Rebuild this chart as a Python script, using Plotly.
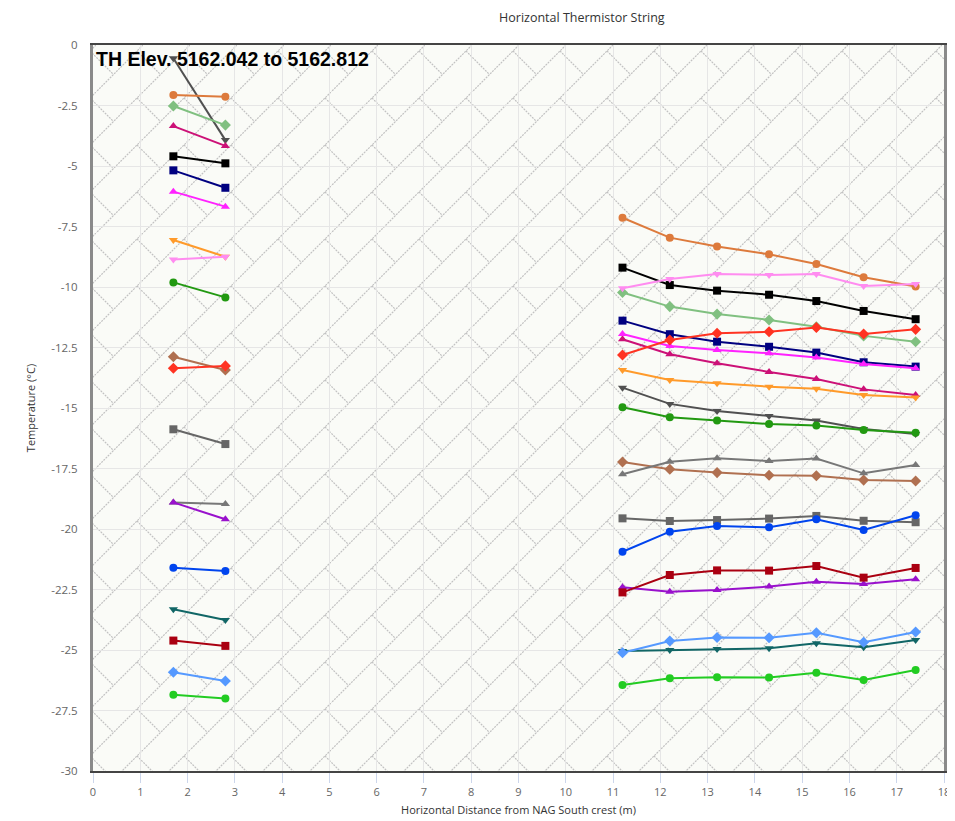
import base64
import plotly.graph_objects as go

# ---------------- data ----------------
x_left = [1.7, 2.8]
x_right = [11.2, 12.2, 13.2, 14.3, 15.3, 16.3, 17.4]

th01_left = [-0.55, -3.93]
th01_right = [-14.16, -14.83, -15.12, -15.33, -15.52, -15.87, -16.07]
th02_left = [-2.07, -2.14]
th02_right = [-7.14, -7.96, -8.33, -8.65, -9.05, -9.60, -9.98]
th03_left = [-2.52, -3.31]
th03_right = [-10.23, -10.81, -11.12, -11.36, -11.64, -12.02, -12.26]
th04_left = [-3.35, -4.17]
th04_right = [-12.16, -12.78, -13.15, -13.51, -13.80, -14.23, -14.46]
th05_left = [-4.60, -4.89]
th05_right = [-9.20, -9.92, -10.15, -10.32, -10.58, -10.99, -11.33]
th06_left = [-5.18, -5.90]
th06_right = [-11.39, -11.95, -12.26, -12.47, -12.71, -13.11, -13.29]
th07_left = [-6.06, -6.68]
th07_right = [-11.94, -12.44, -12.60, -12.74, -12.91, -13.18, -13.36]
th08_left = [-8.06, -8.75]
th08_right = [-13.43, -13.84, -13.98, -14.12, -14.20, -14.46, -14.57]
th09_left = [-8.86, -8.75]
th09_right = [-10.05, -9.67, -9.46, -9.50, -9.46, -9.96, -9.88]
th10_left = [-9.81, -10.43]
th10_right = [-14.97, -15.38, -15.52, -15.66, -15.72, -15.91, -16.02]
th11_left = [-12.88, -13.43]
th11_right = [-17.23, -17.53, -17.67, -17.78, -17.80, -17.98, -18.02]
th12_left = [-13.36, -13.26]
th12_right = [-12.81, -12.19, -11.91, -11.85, -11.67, -11.94, -11.75]
th13_left = [-15.88, -16.49]
th13_right = [-19.56, -19.67, -19.63, -19.57, -19.46, -19.66, -19.72]
th14_left = [-18.90, -18.97]
th14_right = [-17.74, -17.22, -17.08, -17.19, -17.09, -17.70, -17.36]
th15_left = [-18.90, -19.60]
th15_right = [-22.41, -22.59, -22.52, -22.38, -22.18, -22.27, -22.08]
th16_left = [-21.60, -21.74]
th16_right = [-20.94, -20.11, -19.88, -19.93, -19.60, -20.04, -19.43]
th17_left = [-23.32, -23.76]
th17_right = [-25.04, -25.00, -24.96, -24.93, -24.72, -24.89, -24.59]
th18_left = [-24.61, -24.83]
th18_right = [-22.62, -21.90, -21.71, -21.72, -21.53, -22.01, -21.61]
th19_left = [-25.92, -26.28]
th19_right = [-25.11, -24.63, -24.48, -24.49, -24.29, -24.68, -24.26]
th20_left = [-26.85, -27.00]
th20_right = [-26.45, -26.17, -26.13, -26.14, -25.94, -26.24, -25.83]

x_ticks = list(range(0, 19))
y_tick_vals = [0, -2.5, -5, -7.5, -10, -12.5, -15, -17.5, -20, -22.5, -25, -27.5, -30]
y_tick_text = ["0", "-2.5", "-5", "-7.5", "-10", "-12.5", "-15", "-17.5", "-20",
               "-22.5", "-25", "-27.5", "-30"]

# ---------------- styles ----------------
left_series = [th01_left, th02_left, th03_left, th04_left, th05_left, th06_left, th07_left,
               th08_left, th09_left, th10_left, th11_left, th12_left, th13_left, th14_left,
               th15_left, th16_left, th17_left, th18_left, th19_left, th20_left]
right_series = [th01_right, th02_right, th03_right, th04_right, th05_right, th06_right, th07_right,
                th08_right, th09_right, th10_right, th11_right, th12_right, th13_right, th14_right,
                th15_right, th16_right, th17_right, th18_right, th19_right, th20_right]
colors = ["#505050", "#dd7a3c", "#80c080", "#cc1177", "#000000", "#000080", "#ff22ff",
          "#ff9a2a", "#ff8cf0", "#229911", "#b07050", "#ff3322", "#666666", "#777777",
          "#9911cc", "#0044ee", "#116666", "#aa0011", "#5599ff", "#22cc22"]
symbols = ["triangle-down", "circle", "diamond", "triangle-up", "square", "square", "triangle-up",
           "triangle-down", "triangle-down", "circle", "diamond", "diamond", "square", "triangle-up",
           "triangle-up", "circle", "triangle-down", "square", "diamond", "circle"]

fig = go.Figure()
for i, (yl, yr) in enumerate(zip(left_series, right_series)):
    xs = x_left + [None] + x_right
    ys = yl + [None] + yr
    fig.add_trace(go.Scatter(
        x=xs, y=ys, mode="lines+markers", connectgaps=False,
        name=f"TH {i + 1}",
        line=dict(color=colors[i], width=2),
        marker=dict(color=colors[i], symbol=symbols[i], size=8 if symbols[i] != "diamond" else 8.5),
        showlegend=False,
    ))

# ---------------- background pattern ----------------
PW, PH = 851, 726
svg = (
    f'<svg xmlns="http://www.w3.org/2000/svg" width="{PW}" height="{PH}">'
    '<defs><pattern id="p" x="3" y="0" width="47" height="47" patternUnits="userSpaceOnUse">'
    '<g stroke="#c2c2c2" stroke-width="1.2" stroke-dasharray="2,1" fill="none">'
    '<line x1="-1" y1="48" x2="48" y2="-1"/>'
    '<line x1="41" y1="6" x2="64.5" y2="29.5"/>'
    '<line x1="-6" y1="6" x2="17.5" y2="29.5"/>'
    '</g></pattern></defs>'
    f'<rect width="{PW}" height="{PH}" fill="url(#p)"/></svg>'
)
src = "data:image/svg+xml;base64," + base64.b64encode(svg.encode()).decode()
fig.add_layout_image(dict(source=src, xref="paper", yref="paper", x=0, y=1,
                          sizex=1, sizey=1, sizing="stretch", layer="below",
                          xanchor="left", yanchor="top"))

fig.add_annotation(
    text="<b>TH Elev. 5162.042 to 5162.812</b>", xref="paper", yref="paper",
    x=0.001, y=0.999, xanchor="left", yanchor="top", showarrow=False,
    font=dict(family="Liberation Sans, Arial", size=19.5, color="#000000"),
)

# page body has an 8px margin: figure is sized/offset so the plot area lands where the reference has it
fig.update_layout(
    width=947, height=813,
    margin=dict(l=85, r=11, t=37, b=50),
    paper_bgcolor="#ffffff",
    plot_bgcolor="#fafbf7",
    font=dict(family="Open Sans", size=11, color="#666666"),
    title=dict(text="Horizontal Thermistor String", x=0.606, xanchor="center",
               y=0.988, yanchor="middle", font=dict(size=12.5, color="#333333")),
    showlegend=False,
)
fig.update_xaxes(
    range=[0, 18], tickvals=x_ticks, ticktext=[str(v) for v in x_ticks],
    showgrid=True, gridcolor="#e6e6e6", gridwidth=1, zeroline=False,
    showline=True, linecolor="#444444", linewidth=2, mirror=True,
    ticks="outside", ticklen=10, tickcolor="#ccd6eb", tickfont=dict(size=11, color="#666666"),
    title=dict(text="Horizontal Distance from NAG South crest (m)", standoff=8,
               font=dict(size=11, color="#333333")),
    automargin=False,
)
fig.update_yaxes(
    range=[-30, 0], tickvals=y_tick_vals, ticktext=y_tick_text,
    showgrid=True, gridcolor="#e6e6e6", gridwidth=1, zeroline=False,
    showline=True, linecolor="#8a8a8a", linewidth=3, mirror=True,
    ticks="outside", ticklen=10, tickcolor="rgba(0,0,0,0)", tickfont=dict(size=11.5, color="#666666"),
    title=dict(text="Temperature (°C)", standoff=14, font=dict(size=11, color="#333333")),
    automargin=False,
)

fig.write_html("out.html")
